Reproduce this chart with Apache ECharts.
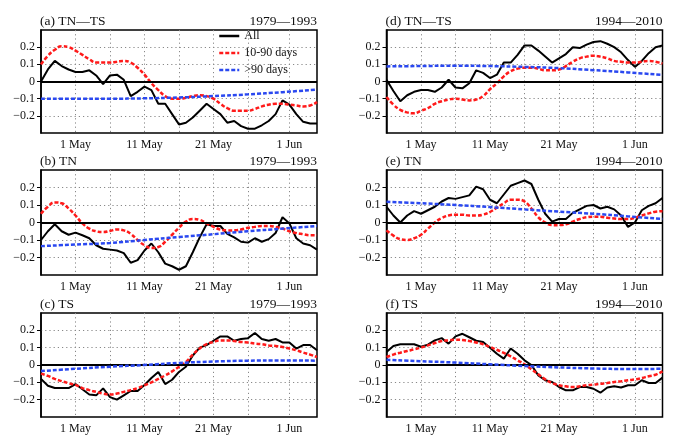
<!DOCTYPE html>
<html><head><meta charset="utf-8">
<script src="https://cdn.jsdelivr.net/npm/echarts@6/dist/echarts.min.js"></script>
<style>html,body{margin:0;padding:0;background:#fff}#c{width:677px;height:438px}</style>
</head><body><div id="c"></div>
<script>
const dates = ['26 Apr','27 Apr','28 Apr','29 Apr','30 Apr','1 May','2 May','3 May','4 May','5 May',
  '6 May','7 May','8 May','9 May','10 May','11 May','12 May','13 May','14 May','15 May',
  '16 May','17 May','18 May','19 May','20 May','21 May','22 May','23 May','24 May','25 May',
  '26 May','27 May','28 May','29 May','30 May','31 May','1 Jun','2 Jun','3 Jun','4 Jun','5 Jun'];
const labelDates = ['1 May','11 May','21 May','1 Jun'];
const gridDates = ['1 May','6 May','11 May','16 May','21 May','26 May','1 Jun'];
const lowDates = ['26 Apr','1 May','6 May','11 May','16 May','21 May','26 May','31 May','5 Jun'];
const yMin = -0.3, yMax = 0.3, yStep = 0.1;
const yTicks = [-0.2, -0.1, 0, 0.1, 0.2];

const panelTitles = ['(a) TN—TS','(b) TN','(c) TS','(d) TN—TS','(e) TN','(f) TS'];
const panelPeriods = ['1979—1993','1979—1993','1979—1993','1994—2010','1994—2010','1994—2010'];
const seriesNames = ['All','10-90 days','>90 days'];

// (a) TN-TS 1979-1993
const aAll = [0.0,0.07,0.12,0.09,0.07,0.055,0.055,0.065,0.035,-0.015,0.035,0.04,0.01,-0.085,-0.06,-0.03,-0.05,-0.13,-0.13,-0.19,-0.25,-0.24,-0.21,-0.17,-0.13,-0.16,-0.19,-0.24,-0.23,-0.26,-0.275,-0.275,-0.255,-0.23,-0.19,-0.11,-0.135,-0.19,-0.235,-0.245,-0.245];
const aBand = [0.10,0.15,0.185,0.205,0.20,0.18,0.155,0.13,0.11,0.11,0.11,0.115,0.12,0.11,0.08,0.04,-0.01,-0.05,-0.085,-0.10,-0.10,-0.095,-0.085,-0.08,-0.085,-0.10,-0.13,-0.155,-0.17,-0.17,-0.17,-0.16,-0.145,-0.135,-0.13,-0.13,-0.135,-0.14,-0.145,-0.14,-0.12];
const aLow = [-0.10,-0.10,-0.10,-0.098,-0.093,-0.085,-0.075,-0.062,-0.047];
// (b) TN 1979-1993
const bAll = [-0.10,-0.05,-0.01,-0.05,-0.07,-0.058,-0.073,-0.09,-0.13,-0.15,-0.155,-0.16,-0.175,-0.23,-0.215,-0.16,-0.12,-0.17,-0.235,-0.25,-0.27,-0.25,-0.17,-0.085,-0.01,-0.02,-0.02,-0.065,-0.085,-0.11,-0.115,-0.09,-0.11,-0.095,-0.06,0.03,-0.005,-0.09,-0.12,-0.13,-0.155];
const bBand = [0.05,0.09,0.115,0.11,0.08,0.04,-0.005,-0.035,-0.05,-0.055,-0.048,-0.04,-0.045,-0.065,-0.10,-0.13,-0.145,-0.14,-0.11,-0.07,-0.03,0.005,0.02,0.015,-0.005,-0.025,-0.04,-0.045,-0.045,-0.04,-0.03,-0.025,-0.02,-0.02,-0.025,-0.035,-0.05,-0.06,-0.067,-0.073,-0.073];
const bLow = [-0.135,-0.126,-0.117,-0.10,-0.083,-0.067,-0.05,-0.035,-0.02];
// (c) TS 1979-1993
const cAll = [-0.08,-0.12,-0.133,-0.133,-0.133,-0.11,-0.14,-0.17,-0.175,-0.135,-0.185,-0.2,-0.175,-0.15,-0.15,-0.115,-0.075,-0.04,-0.11,-0.085,-0.04,-0.01,0.055,0.10,0.115,0.14,0.165,0.165,0.14,0.15,0.155,0.185,0.15,0.14,0.15,0.13,0.13,0.095,0.115,0.115,0.085];
const cBand = [-0.05,-0.063,-0.08,-0.093,-0.105,-0.115,-0.133,-0.145,-0.155,-0.165,-0.17,-0.165,-0.155,-0.145,-0.133,-0.117,-0.10,-0.08,-0.06,-0.037,-0.01,0.017,0.06,0.095,0.12,0.133,0.142,0.142,0.138,0.133,0.13,0.123,0.12,0.113,0.11,0.104,0.095,0.085,0.072,0.06,0.046];
const cLow = [-0.035,-0.022,-0.01,0.0,0.012,0.02,0.025,0.026,0.025];
// (d) TN-TS 1994-2010
const dAll = [0.01,-0.055,-0.115,-0.08,-0.06,-0.05,-0.05,-0.06,-0.035,0.01,-0.035,-0.04,-0.01,0.065,0.05,0.02,0.04,0.11,0.11,0.155,0.21,0.21,0.18,0.145,0.11,0.135,0.16,0.20,0.195,0.215,0.23,0.235,0.22,0.20,0.17,0.125,0.085,0.12,0.165,0.20,0.21];
const dBand = [-0.09,-0.135,-0.165,-0.18,-0.185,-0.17,-0.155,-0.13,-0.115,-0.105,-0.10,-0.105,-0.11,-0.105,-0.085,-0.045,-0.01,0.03,0.06,0.075,0.08,0.08,0.075,0.065,0.065,0.07,0.09,0.115,0.135,0.145,0.15,0.145,0.135,0.12,0.115,0.11,0.11,0.115,0.12,0.115,0.105];
const dLow = [0.088,0.09,0.092,0.09,0.085,0.078,0.066,0.053,0.038];
// (e) TN 1994-2010
const eAll = [0.09,0.04,0.0,0.04,0.065,0.05,0.07,0.09,0.12,0.14,0.135,0.145,0.155,0.205,0.19,0.13,0.11,0.16,0.21,0.225,0.24,0.22,0.13,0.05,0.005,0.02,0.02,0.055,0.075,0.095,0.10,0.08,0.09,0.075,0.04,-0.025,0.0,0.07,0.095,0.11,0.14];
const eBand = [-0.045,-0.075,-0.095,-0.10,-0.09,-0.07,-0.035,0.0,0.025,0.04,0.045,0.045,0.04,0.04,0.045,0.06,0.085,0.11,0.13,0.13,0.12,0.08,0.03,0.0,-0.015,-0.015,-0.01,0.005,0.02,0.03,0.033,0.033,0.027,0.023,0.02,0.02,0.027,0.04,0.052,0.062,0.065];
const eLow = [0.118,0.11,0.10,0.088,0.075,0.062,0.05,0.035,0.02];
// (f) TS 1994-2010
const fAll = [0.075,0.11,0.12,0.12,0.12,0.105,0.117,0.142,0.155,0.123,0.165,0.18,0.16,0.14,0.133,0.10,0.065,0.037,0.095,0.065,0.027,0.0,-0.06,-0.088,-0.098,-0.127,-0.146,-0.146,-0.127,-0.127,-0.137,-0.16,-0.13,-0.123,-0.13,-0.117,-0.117,-0.088,-0.104,-0.104,-0.073];
const fBand = [0.046,0.06,0.071,0.081,0.09,0.10,0.113,0.127,0.138,0.142,0.146,0.144,0.138,0.13,0.12,0.104,0.088,0.07,0.05,0.027,0.004,-0.025,-0.054,-0.083,-0.104,-0.117,-0.123,-0.127,-0.123,-0.117,-0.113,-0.108,-0.104,-0.098,-0.094,-0.088,-0.083,-0.075,-0.065,-0.056,-0.037];
const fLow = [0.03,0.022,0.014,0.004,-0.006,-0.014,-0.02,-0.023,-0.022];

const panelAll = [aAll,bAll,cAll,dAll,eAll,fAll];
const panelBand = [aBand,bBand,cBand,dBand,eBand,fBand];
const panelLow = [aLow,bLow,cLow,dLow,eLow,fLow];

const FONT = 'Liberation Serif';
const colLeft = [41, 386.5];
const plotW = 276;
const rowTop = [30, 170, 313];
const rowH = [103, 105, 104];
const red = '#ff1a1a', blue = '#2a48f0';

const grids = [], xAxes = [], yAxes = [], series = [], titles = [];
for (let p = 0; p < 6; p++) {
  const col = Math.floor(p / 3), row = p % 3;
  grids.push({left: colLeft[col], top: rowTop[row], width: plotW, height: rowH[row],
    show: true, borderColor: '#000', borderWidth: 1.5, backgroundColor: 'transparent', containLabel: false});
  xAxes.push({type: 'category', gridIndex: p, data: dates, boundaryGap: false,
    axisLine: {show: false}, axisTick: {show: false},
    axisLabel: {interval: (i, v) => labelDates.includes(v), margin: 6,
      fontFamily: FONT, fontSize: 12, color: '#111'},
    splitLine: {show: true, interval: (i, v) => gridDates.includes(v),
      lineStyle: {color: '#888', width: 1, type: [1.2, 3]}}});
  yAxes.push({type: 'value', gridIndex: p, min: yMin, max: yMax, interval: yStep,
    axisLine: {show: true, lineStyle: {color: '#000', width: 1.5}},
    axisTick: {show: true, inside: false, length: 4, customValues: yTicks, lineStyle: {color: '#000', width: 1}},
    axisLabel: {margin: 6, fontFamily: FONT, fontSize: 12, color: '#111', customValues: yTicks,
      formatter: v => (Math.abs(v) < 1e-9 ? '0' : v.toFixed(1).replace('-', '−'))},
    splitLine: {show: true, lineStyle: {color: '#888', width: 1, type: [1.2, 3]}}});
  series.push({name: seriesNames[0], type: 'line', xAxisIndex: p, yAxisIndex: p,
    data: panelAll[p], showSymbol: false, symbol: 'none', z: 3,
    lineStyle: {color: '#000', width: 2}, itemStyle: {color: '#000'},
    markLine: {silent: true, symbol: ['none', 'none'], label: {show: false}, animation: false,
      lineStyle: {color: '#000', width: 2.2, type: 'solid'}, data: [{yAxis: 0}]}});
  series.push({name: seriesNames[1], type: 'line', xAxisIndex: p, yAxisIndex: p,
    data: panelBand[p], smooth: true, showSymbol: false, symbol: 'none', z: 4,
    lineStyle: {color: red, width: 2.5, type: [4, 2]}, itemStyle: {color: red}});
  series.push({name: seriesNames[2], type: 'line', xAxisIndex: p, yAxisIndex: p,
    data: panelLow[p].map((v, k) => [lowDates[k], v]), smooth: true, showSymbol: false, symbol: 'none', z: 5,
    lineStyle: {color: blue, width: 2.5, type: [4, 2]}, itemStyle: {color: blue}});
  titles.push({text: panelTitles[p], left: colLeft[col] - 1, top: rowTop[row] - 16,
    textStyle: {fontFamily: FONT, fontSize: 13.5, fontWeight: 'normal', color: '#111'}, padding: 0});
  titles.push({text: panelPeriods[p], right: 677 - (colLeft[col] + plotW) , top: rowTop[row] - 16,
    textStyle: {fontFamily: FONT, fontSize: 13.5, fontWeight: 'normal', color: '#111'}, padding: 0});
}

const chart = echarts.init(document.getElementById('c'), null, {renderer: 'canvas'});
chart.setOption({
  animation: false,
  backgroundColor: '#fff',
  title: titles,
  legend: {data: seriesNames, orient: 'vertical', left: 218, top: 30, padding: 0,
    itemWidth: 20, itemHeight: 12, itemGap: 5, itemStyle: {opacity: 0},
    lineStyle: {width: 2.5},
    textStyle: {fontFamily: FONT, fontSize: 12, color: '#111'}},
  grid: grids, xAxis: xAxes, yAxis: yAxes, series: series
});
</script></body></html>
